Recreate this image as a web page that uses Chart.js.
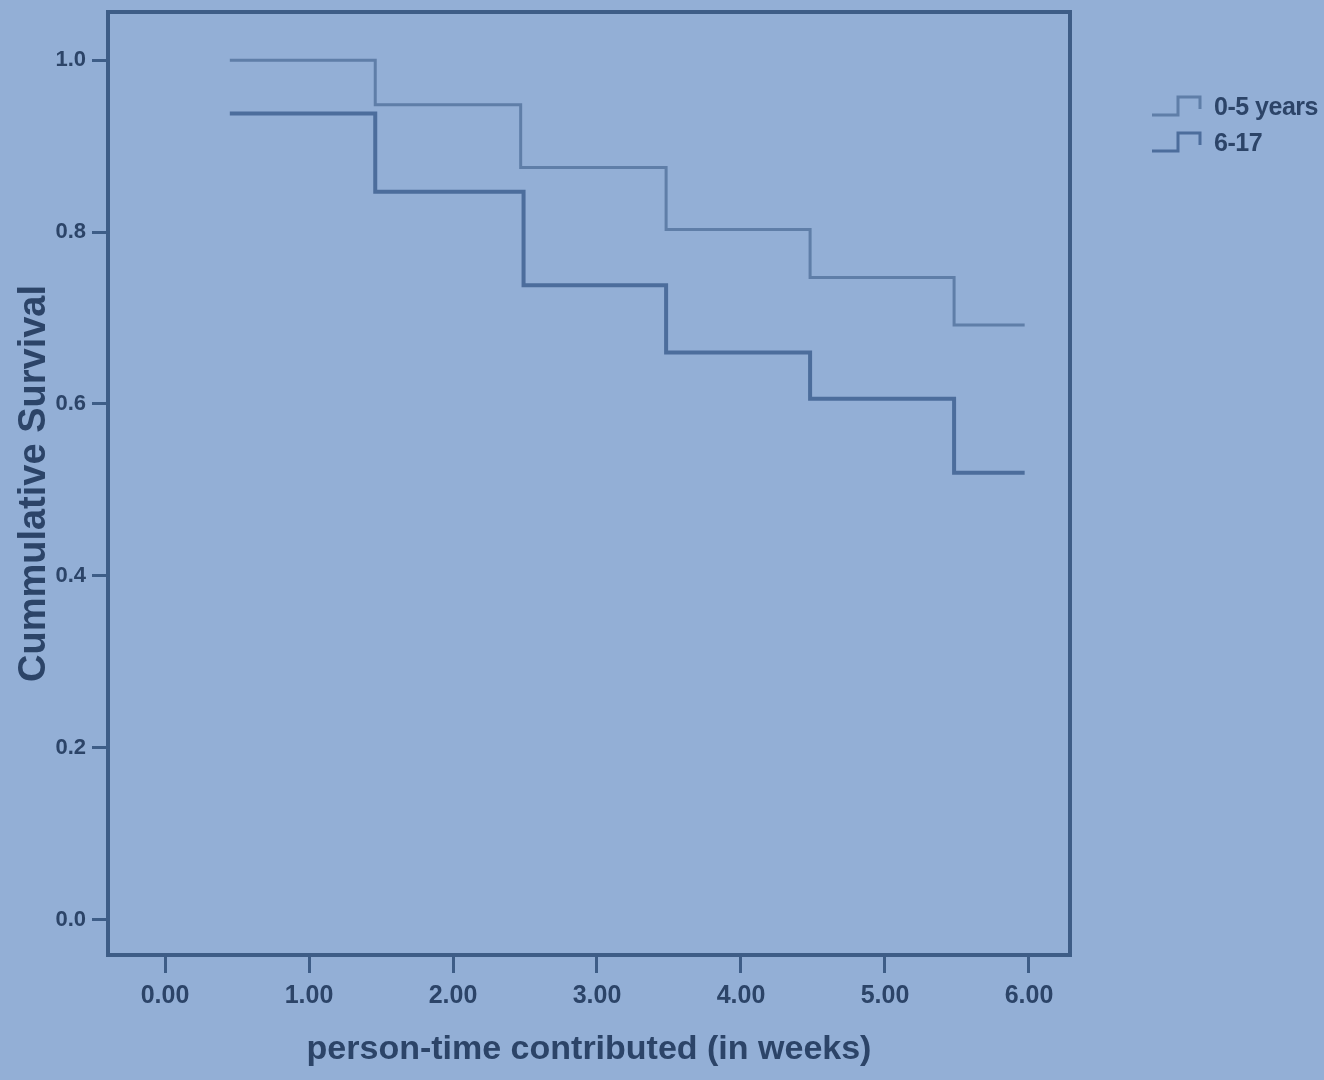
<!DOCTYPE html>
<html>
<head>
<meta charset="utf-8">
<script src="https://cdn.jsdelivr.net/npm/chart.js@4/dist/chart.umd.min.js"></script>
<style>
  html, body { margin: 0; padding: 0; background: #93afd6; }
  #wrap { position: relative; width: 1324px; height: 1080px; }
  #legend { position: absolute; left: 1150px; top: 88px; font-family: "Liberation Sans Narrow", "Liberation Sans", sans-serif; font-size: 25px; font-weight: bold; color: #2c4468; }
  #legend div { display: flex; align-items: center; height: 36px; letter-spacing: -0.5px; }
  #legend svg { margin-right: 2px; }
</style>
</head>
<body>
<div id="wrap">
  <canvas id="kmChart" width="1324" height="1080"></canvas>
  <div id="legend"></div>
</div>
<script>
// Survival data (step drops at each time point)
const seriesNames = ["0-5 years", "6-17"];
const timesUpper = [0.45, 1.46, 2.47, 3.48, 4.48, 5.48, 5.97];
const survivalUpper = [1.0, 0.948, 0.875, 0.803, 0.747, 0.692, 0.692];
const timesLower = [0.45, 1.46, 2.49, 3.48, 4.48, 5.48, 5.97];
const survivalLower = [0.938, 0.847, 0.738, 0.66, 0.606, 0.52, 0.52];

const xTickValues = [0, 1, 2, 3, 4, 5, 6];
const xTickLabels = ["0.00", "1.00", "2.00", "3.00", "4.00", "5.00", "6.00"];
const yTickValues = [0, 0.2, 0.4, 0.6, 0.8, 1.0];
const yTickLabels = ["0.0", "0.2", "0.4", "0.6", "0.8", "1.0"];

const axisColor = "#3e5d87";
const textColor = "#2c4468";
const lineColors = ["#5f7ea8", "#4c6d9c"];

// frame around the plot area
const frameBox = {
  id: "frameBox",
  afterDraw(chart) {
    const { ctx, chartArea } = chart;
    ctx.save();
    ctx.strokeStyle = axisColor;
    ctx.lineWidth = 4;
    ctx.strokeRect(chartArea.left, chartArea.top, chartArea.right - chartArea.left, chartArea.bottom - chartArea.top);
    ctx.restore();
  }
};

const ctx = document.getElementById("kmChart").getContext("2d");
const kmChart = new Chart(ctx, {
  type: "line",
  data: {
    datasets: [
      {
        label: seriesNames[0],
        data: timesUpper.map((t, i) => ({ x: t, y: survivalUpper[i] })),
        borderColor: lineColors[0],
        borderWidth: 3,
        pointRadius: 0,
        stepped: "before",
        fill: false
      },
      {
        label: seriesNames[1],
        data: timesLower.map((t, i) => ({ x: t, y: survivalLower[i] })),
        borderColor: lineColors[1],
        borderWidth: 4,
        pointRadius: 0,
        stepped: "before",
        fill: false
      }
    ]
  },
  options: {
    responsive: false,
    animation: false,
    layout: { padding: { top: 12, right: 254, bottom: 0, left: 0 } },
    plugins: {
      legend: { display: false },
      tooltip: { enabled: false }
    },
    scales: {
      x: {
        type: "linear",
        min: -0.396,
        max: 6.285,
        afterFit: (scale) => { scale.height = 125; scale.paddingLeft = 0; scale.paddingRight = 0; },
        afterBuildTicks: (scale) => { scale.ticks = xTickValues.map(v => ({ value: v })); },
        grid: { drawOnChartArea: false, color: axisColor, lineWidth: 3, tickLength: 18 },
        border: { color: axisColor, width: 4 },
        ticks: {
          color: textColor,
          font: { family: "Liberation Sans", size: 25, weight: "bold" },
          padding: 8,
          maxRotation: 0,
          callback: (value) => xTickLabels[xTickValues.indexOf(value)]
        },
        title: {
          display: true,
          text: "person-time contributed (in weeks)",
          color: textColor,
          font: { family: "Liberation Sans", size: 34, weight: "bold" },
          padding: { top: 0, bottom: 10 }
        }
      },
      y: {
        type: "linear",
        min: -0.041,
        max: 1.056,
        afterFit: (scale) => { scale.width = 108; scale.paddingTop = 0; scale.paddingBottom = 0; },
        afterBuildTicks: (scale) => { scale.ticks = yTickValues.map(v => ({ value: v })); },
        grid: { drawOnChartArea: false, color: axisColor, lineWidth: 3, tickLength: 16 },
        border: { color: axisColor, width: 4 },
        ticks: {
          color: textColor,
          font: { family: "Liberation Sans", size: 22, weight: "bold" },
          padding: 6,
          callback: (value) => yTickLabels[yTickValues.indexOf(value)]
        },
        title: {
          display: true,
          text: "Cummulative Survival",
          color: textColor,
          font: { family: "Liberation Sans", size: 38, weight: "bold" },
          padding: { top: 12, bottom: 0 }
        }
      }
    }
  },
  plugins: [frameBox]
});

// Legend with step-shaped symbols
const legendEl = document.getElementById("legend");
seriesNames.forEach((name, i) => {
  const row = document.createElement("div");
  row.innerHTML =
    '<svg width="62" height="30"><path d="M2 24 H28 V6 H50 V18" fill="none" stroke="' +
    lineColors[i] + '" stroke-width="3"/></svg><span>' + name + '</span>';
  legendEl.appendChild(row);
});
</script>
</body>
</html>
